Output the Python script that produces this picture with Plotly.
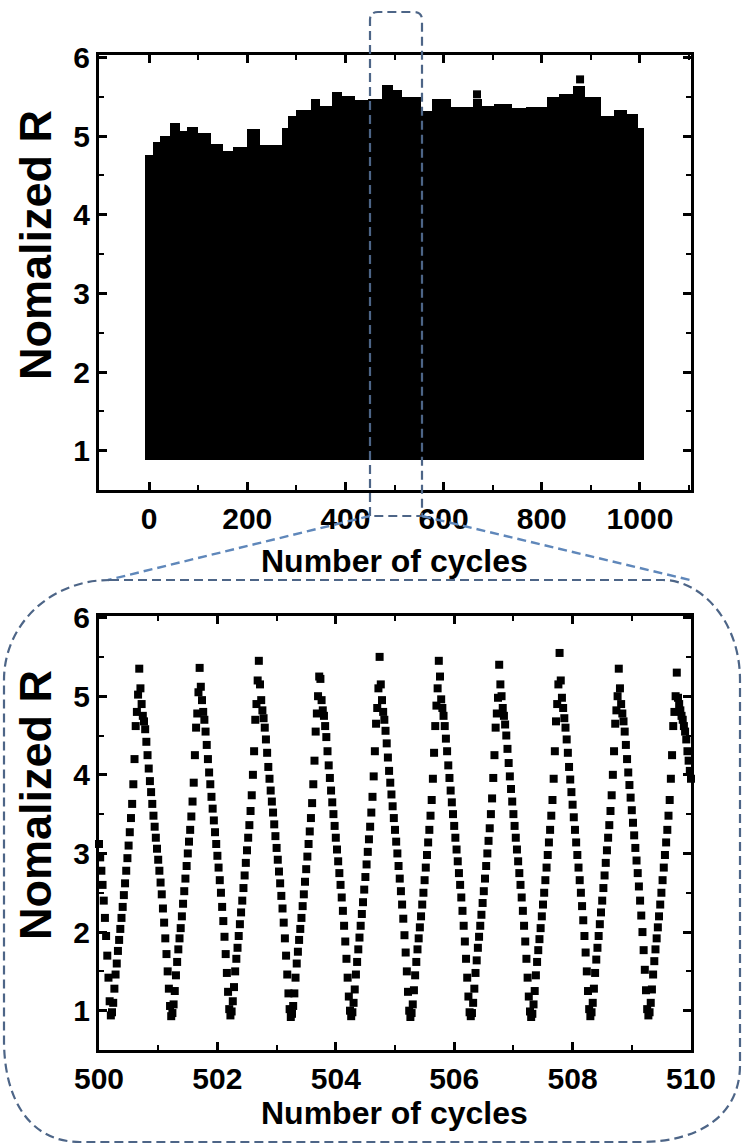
import plotly.graph_objects as go

# ---------------- data: top panel (0-1000 cycles, dense signal envelope) -------------
bin_start = [-8, 8, 22, 43, 63, 77, 100, 127, 150, 171, 199, 226, 270, 282, 300, 330, 348, 373, 393, 420,
             446, 474, 496, 516, 553, 577, 616, 659, 679, 702, 740, 768, 810, 836, 864, 888, 920, 948, 973, 996]
bin_end = [8, 22, 43, 63, 77, 100, 127, 150, 171, 199, 226, 270, 282, 300, 330, 348, 373, 393, 420, 446,
           474, 496, 516, 553, 577, 616, 659, 679, 702, 740, 768, 810, 836, 864, 888, 920, 948, 973, 996, 1008]
env_top = [4.76, 4.92, 5.0, 5.17, 5.06, 5.12, 5.04, 4.9, 4.81, 4.86,
           5.09, 4.88, 5.1, 5.26, 5.33, 5.47, 5.38, 5.56, 5.51, 5.46,
           5.47, 5.65, 5.58, 5.5, 5.32, 5.47, 5.37, 5.47, 5.38, 5.41,
           5.36, 5.37, 5.49, 5.53, 5.63, 5.5, 5.26, 5.33, 5.28, 5.1]
env_bottom = 0.88
outlier_cycles = [668, 878]
outlier_values = [5.53, 5.72]

# ---------------- data: bottom panel (cycles 500-510) -------------
zoom_start, zoom_end = 500.0, 510.0
seg_start = [3.12, 2.95, 2.78, 2.6, 2.4, 2.18, 1.95, 1.7, 1.42, 1.12]
cyc0 = [0.94, 0.98, 1.1, 1.28, 1.46, 1.6, 1.76, 1.9, 2.04, 2.18, 2.32, 2.47, 2.62, 2.78, 2.94, 3.1, 3.27, 3.45, 3.63, 3.88, 4.2, 4.62, 4.8, 5.02, 5.35,
        5.1, 4.9, 4.75, 4.68, 4.58, 4.42, 4.25, 4.08, 3.92, 3.78, 3.63, 3.48, 3.34, 3.2, 3.06, 2.92, 2.78, 2.63, 2.48, 2.3, 2.12, 1.92, 1.72, 1.5, 1.28, 1.06]
cyc1 = [0.93, 0.97, 1.08, 1.25, 1.45, 1.62, 1.78, 1.92, 2.05, 2.2, 2.36, 2.52, 2.68, 2.84, 3.0, 3.15, 3.3, 3.47, 3.66, 3.9, 4.25, 4.6, 4.78, 5.05, 5.36,
        5.12, 4.95, 4.8, 4.7, 4.55, 4.38, 4.2, 4.03, 3.88, 3.72, 3.57, 3.42, 3.27, 3.12, 2.97, 2.82, 2.66, 2.5, 2.32, 2.14, 1.94, 1.72, 1.48, 1.24, 1.02]
cyc2 = [0.94, 0.99, 1.12, 1.3, 1.5, 1.66, 1.8, 1.95, 2.1, 2.25, 2.4, 2.56, 2.72, 2.88, 3.04, 3.2, 3.36, 3.54, 3.74, 4.0, 4.3, 4.7, 4.9, 5.2, 5.45,
        5.15, 4.95, 4.82, 4.72, 4.6, 4.45, 4.28, 4.1, 3.95, 3.8, 3.66, 3.52, 3.37, 3.22, 3.07, 2.92, 2.77, 2.62, 2.46, 2.3, 2.12, 1.92, 1.7, 1.46, 1.22, 1.02]
cyc3 = [0.92, 0.96, 1.06, 1.22, 1.42, 1.6, 1.75, 1.9, 2.04, 2.18, 2.33, 2.48, 2.64, 2.8, 2.96, 3.12, 3.28, 3.45, 3.64, 3.88, 4.18, 4.55, 4.78, 5.0, 5.25,
        5.22, 4.95, 4.82, 4.75, 4.62, 4.48, 4.3, 4.12, 3.96, 3.8, 3.65, 3.5, 3.35, 3.2, 3.05, 2.9, 2.75, 2.6, 2.44, 2.27, 2.08, 1.88, 1.66, 1.42, 1.18, 1.0]
cyc4 = [0.93, 0.98, 1.1, 1.27, 1.46, 1.62, 1.78, 1.93, 2.08, 2.23, 2.38, 2.54, 2.7, 2.86, 3.02, 3.18, 3.34, 3.52, 3.72, 3.98, 4.3, 4.65, 4.85, 5.1, 5.5,
        5.15, 4.95, 4.8, 4.7, 4.56, 4.4, 4.22, 4.05, 3.9, 3.75, 3.6, 3.45, 3.3, 3.15, 3.0, 2.84, 2.68, 2.52, 2.35, 2.17, 1.96, 1.74, 1.5, 1.24, 1.0]
cyc5 = [0.92, 0.97, 1.08, 1.26, 1.45, 1.62, 1.78, 1.92, 2.06, 2.2, 2.35, 2.5, 2.66, 2.82, 2.98, 3.14, 3.3, 3.48, 3.68, 3.95, 4.28, 4.62, 4.88, 5.1, 5.45,
        5.25, 4.96, 4.85, 4.75, 4.62, 4.46, 4.3, 4.12, 3.96, 3.8, 3.65, 3.5, 3.35, 3.2, 3.05, 2.9, 2.75, 2.6, 2.44, 2.27, 2.08, 1.88, 1.66, 1.42, 1.18, 0.98]
cyc6 = [0.93, 0.97, 1.1, 1.28, 1.48, 1.64, 1.8, 1.94, 2.08, 2.22, 2.37, 2.52, 2.68, 2.84, 3.0, 3.16, 3.32, 3.5, 3.7, 3.96, 4.25, 4.6, 4.78, 4.98, 5.4,
        5.15, 5.0, 4.85, 4.75, 4.64, 4.5, 4.33, 4.15, 3.98, 3.82, 3.66, 3.5, 3.35, 3.2, 3.05, 2.9, 2.75, 2.6, 2.44, 2.27, 2.08, 1.88, 1.66, 1.42, 1.18, 0.99]
cyc7 = [0.92, 0.96, 1.08, 1.25, 1.45, 1.62, 1.77, 1.91, 2.05, 2.2, 2.35, 2.5, 2.66, 2.82, 2.98, 3.14, 3.3, 3.48, 3.68, 3.95, 4.3, 4.68, 4.9, 5.15, 5.55,
        5.2, 4.98, 4.85, 4.72, 4.6, 4.45, 4.28, 4.1, 3.94, 3.78, 3.62, 3.46, 3.3, 3.14, 2.98, 2.82, 2.66, 2.5, 2.33, 2.15, 1.95, 1.74, 1.5, 1.25, 1.02]
cyc8 = [0.93, 0.98, 1.1, 1.28, 1.48, 1.65, 1.8, 1.95, 2.1, 2.25, 2.4, 2.56, 2.72, 2.88, 3.04, 3.2, 3.36, 3.54, 3.74, 4.0, 4.3, 4.65, 4.82, 5.0, 5.35,
        5.1, 4.9, 4.78, 4.68, 4.55, 4.38, 4.2, 4.03, 3.87, 3.71, 3.55, 3.39, 3.23, 3.07, 2.91, 2.75, 2.58, 2.4, 2.21, 2.0, 1.77, 1.52, 1.26, 1.02]
seg_end = [0.94, 0.98, 1.1, 1.27, 1.46, 1.63, 1.78, 1.92, 2.06, 2.2, 2.35, 2.5, 2.66, 2.82, 2.98, 3.14, 3.3, 3.48, 3.68, 3.95, 4.25, 4.62, 4.8, 5.0, 5.3,
           4.98, 4.9, 4.82, 4.75, 4.7, 4.62, 4.55, 4.45, 4.3, 4.18, 4.05, 3.95]

zoom_values = seg_start + cyc0 + cyc1 + cyc2 + cyc3 + cyc4 + cyc5 + cyc6 + cyc7 + cyc8 + seg_end
n = len(zoom_values)
zoom_cycles = [zoom_start + (zoom_end - zoom_start) * i / (n - 1) for i in range(n)]

top_xticks = [0, 200, 400, 600, 800, 1000]
bot_xticks = [500, 502, 504, 506, 508, 510]
yticks = [1, 2, 3, 4, 5, 6]

# ---------------- figure -------------
W, H = 742, 1144
def px(x):
    return x / W
def py(y):
    return 1 - y / H

FONT = "Liberation Sans"
fig = go.Figure()

centers = [(a + b) / 2 for a, b in zip(bin_start, bin_end)]
widths = [b - a for a, b in zip(bin_start, bin_end)]
fig.add_trace(go.Bar(x=centers, y=[t - env_bottom for t in env_top], base=[env_bottom] * len(env_top),
                     width=widths, marker=dict(color="black", line=dict(width=0)),
                     xaxis="x", yaxis="y", showlegend=False, hoverinfo="skip"))
fig.add_trace(go.Scatter(x=outlier_cycles, y=outlier_values, mode="markers",
                         marker=dict(symbol="square", size=8, color="black"),
                         xaxis="x", yaxis="y", showlegend=False))
fig.add_trace(go.Scatter(x=zoom_cycles, y=zoom_values, mode="markers",
                         marker=dict(symbol="square", size=8, color="black", line=dict(width=0)),
                         xaxis="x2", yaxis="y2", showlegend=False, cliponaxis=False))

tickfont = dict(family=FONT, size=30, color="black", weight="bold")
common = dict(showgrid=False, zeroline=False, showline=True, linecolor="black", linewidth=3,
              mirror="ticks", ticks="inside", ticklen=8, tickwidth=2.5, tickcolor="black",
              tickfont=tickfont, automargin=False)

xdom = [px(99), px(691)]
fig.update_layout(
    width=W, height=H, margin=dict(l=0, r=0, t=0, b=0),
    paper_bgcolor="white", plot_bgcolor="white",
    bargap=0,
    xaxis=dict(domain=xdom, range=[-102, 1104], tickvals=top_xticks, anchor="y",
               minor=dict(dtick=100, tick0=0, ticks="inside", ticklen=5, tickwidth=2, tickcolor="black"),
               **common),
    yaxis=dict(domain=[py(490), py(55)], range=[0.5, 6.03], tickvals=yticks, anchor="x",
               minor=dict(dtick=0.5, tick0=0.5, ticks="inside", ticklen=5, tickwidth=2, tickcolor="black"),
               **common),
    xaxis2=dict(domain=xdom, range=[500, 510], tickvals=bot_xticks, anchor="y2",
                minor=dict(dtick=1, tick0=500, ticks="inside", ticklen=5, tickwidth=2, tickcolor="black"),
                **common),
    yaxis2=dict(domain=[py(1050), py(616)], range=[0.5, 6.02], tickvals=yticks, anchor="x2",
                minor=dict(dtick=0.5, tick0=0.5, ticks="inside", ticklen=5, tickwidth=2, tickcolor="black"),
                **common),
)

title_font = dict(family=FONT, size=45, color="black", weight="bold")
xt_font = dict(family=FONT, size=32, color="black", weight="bold")
anns = [
    dict(text="Nomalized R", x=px(35), y=py(245), textangle=-90, font=title_font),
    dict(text="Nomalized R", x=px(35), y=py(805), textangle=-90, font=title_font),
    dict(text="Number of cycles", x=px(394), y=py(561), font=xt_font),
    dict(text="Number of cycles", x=px(394), y=py(1113), font=xt_font),
]
for a in anns:
    a.update(xref="paper", yref="paper", showarrow=False, xanchor="center", yanchor="middle")
fig.update_layout(annotations=anns)

def P(x, y):
    return f"{px(x):.5f},{py(y):.5f}"

dark = "#4d6587"
light = "#5f87ba"
dash = "9px,5px"
shapes = [
    # zoom window on the top plot
    dict(type="path", path=f"M {P(370,516)} L {P(370,20)} Q {P(370,12)} {P(378,12)} L {P(414,12)} Q {P(422,12)} {P(422,20)} L {P(422,516)} Z",
         line=dict(color=dark, width=2.2, dash=dash)),
    # connecting lines
    dict(type="path", path=f"M {P(370,516)} L {P(108,580)}", line=dict(color=light, width=2.4, dash=dash)),
    dict(type="path", path=f"M {P(422,516)} L {P(690,580)}", line=dict(color=light, width=2.4, dash=dash)),
    # rounded box around the bottom plot
    dict(type="path",
         path=(f"M {P(110,580)} L {P(663,580)} C {P(700,580)} {P(740,620)} {P(740,680)} "
               f"L {P(740,1065)} C {P(740,1115)} {P(700,1142)} {P(640,1142)} "
               f"L {P(80,1142)} C {P(30,1142)} {P(4,1100)} {P(4,1040)} "
               f"L {P(4,680)} C {P(4,625)} {P(50,580)} {P(110,580)} Z"),
         line=dict(color=dark, width=2.2, dash=dash)),
]
for s in shapes:
    s.update(xref="paper", yref="paper", layer="above")
fig.update_layout(shapes=shapes)

fig.write_html("out.html")
